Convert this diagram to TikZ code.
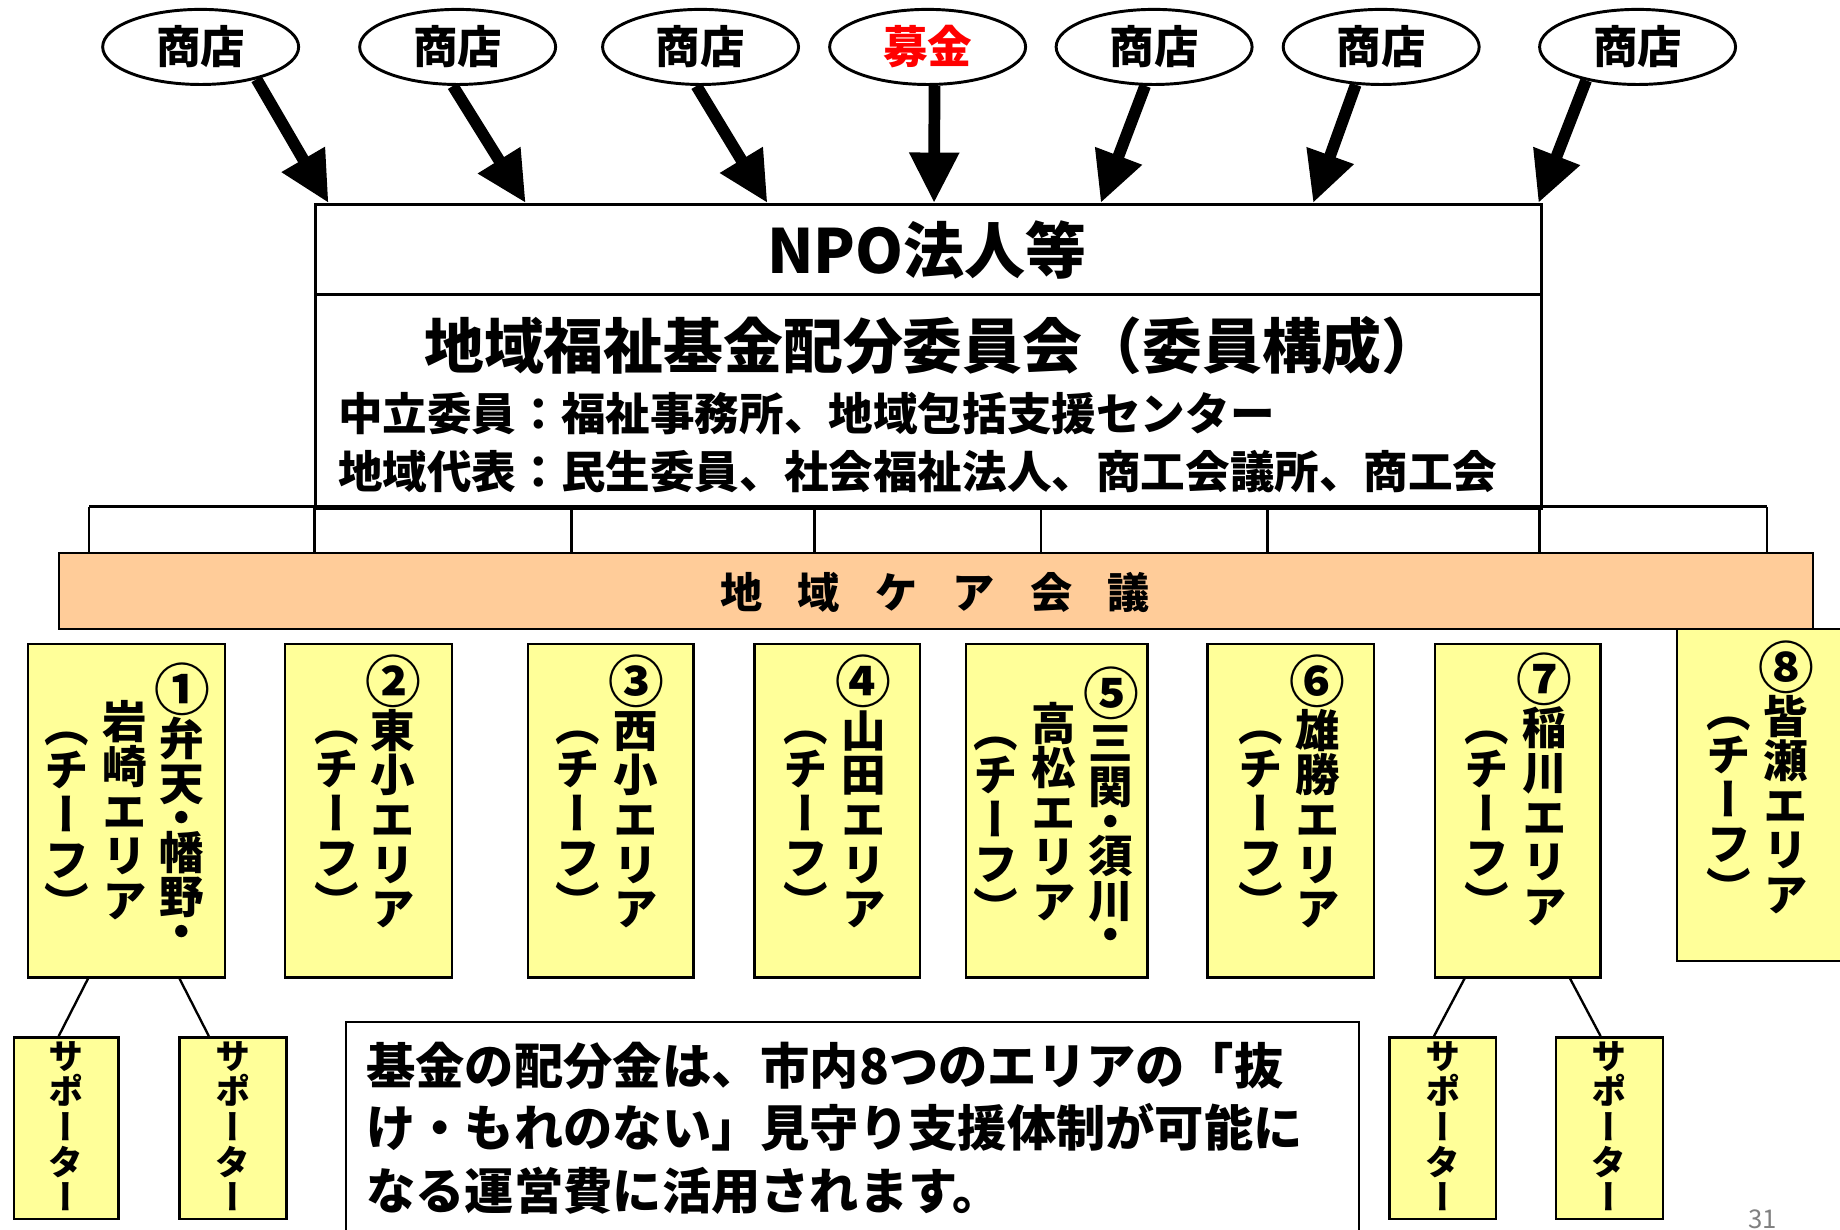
\documentclass[tikz,border=0pt]{standalone}
\usepackage{fontspec}
\usepackage{graphicx}
\setmainfont{Noto Sans CJK JP}
\newfontfamily\jpv{Noto Sans CJK JP}[RawFeature=+vert]
\usetikzlibrary{shapes.geometric,arrows.meta,calc}
\definecolor{peach}{HTML}{FFCC99}
\definecolor{pale}{HTML}{FFFF99}
% vertical (stacked) text
\def\vtaux#1{\ifx\relax#1\else\vtchar{#1}\expandafter\vtaux\fi}
\def\vtchar#1{%
  \ifx・#1\hbox to 1em{\hss\vrule height .55em depth 0pt width 0pt\smash{\lower.105em\hbox{#1}}\hss}%
  \else\ifx（#1\hbox to 1em{\hss\vrule height .38em depth .12em width 0pt\smash{#1}\hss}%
  \else\ifx）#1\hbox to 1em{\hss\vrule height .38em depth .12em width 0pt\smash{\lower.5em\hbox{#1}}\hss}%
  \else\hbox to 1em{\hss\vrule height .88em depth .12em width 0pt\smash{#1}\hss}%
  \fi\fi\fi}
\newcommand\vt[1]{\vbox{\offinterlineskip\vtaux#1\relax}}
% column that starts with a larger circled number
\newcommand\vtn[2]{\vbox{\offinterlineskip
  \hbox to 1em{\hss\vrule height .88em depth .23em width 0pt\smash{\raisebox{-.11em}{\scalebox{1.25}{#1}}}\hss}%
  \vtaux#2\relax}}
\begin{document}
\begin{tikzpicture}[x=1pt,y=1pt,
  shop/.style={draw, line width=2.5pt, ellipse, fill=white, minimum width=167pt, minimum height=64pt, inner sep=0pt, font=\bfseries\fontsize{38}{38}\selectfont},
  bigarrow/.style={line width=10pt, -{Triangle[length=43pt,width=40pt]}},
  ybox/.style={draw, line width=2pt, fill=pale, inner sep=0pt, anchor=north west},
  vcol/.style={inner sep=0pt, anchor=north, font=\jpv\bfseries\fontsize{38}{38}\selectfont},
  scol/.style={inner sep=0pt, anchor=north, font=\jpv\bfseries\fontsize{30}{30}\selectfont},
  thin/.style={line width=2pt},
  htext/.style={inner sep=0pt, font=\bfseries\fontsize{38}{38}\selectfont}]
\useasboundingbox (0,0) rectangle (1568,-1048);
\clip (0,0) rectangle (1568,-1048);

% shops / fund
\node[shop] (e1) at (171,-40) {商店};
\node[shop] (e2) at (390,-40) {商店};
\node[shop] (e3) at (597,-40) {商店};
\node[shop, text=red] (e4) at (790.5,-40) {募金};
\node[shop] (e5) at (983.5,-40) {商店};
\node[shop] (e6) at (1177,-40) {商店};
\node[shop] (e7) at (1395.5,-40) {商店};

% NPO box
\node[draw, line width=2.5pt, minimum width=1044pt, minimum height=259pt, inner sep=0pt, anchor=north west] (npo) at (268,-173) {};
\draw[line width=2.5pt] ($(npo.north west)+(0,-78)$) -- ($(npo.north east)+(0,-78)$);
\node[font=\bfseries\fontsize{52}{52}\selectfont, inner sep=0pt] (npot) at (790,-213) {NPO法人等};
\node[font=\bfseries\fontsize{51}{51}\selectfont, inner sep=0pt] (cmt) at (795,-295) {地域福祉基金配分委員会（委員構成）};
\node[htext, anchor=west] (neu) at (288,-352) {中立委員：福祉事務所、地域包括支援センター};
\node[htext, anchor=west] (rep) at (288,-402) {地域代表：民生委員、社会福祉法人、商工会議所、商工会};

% arrows
\coordinate (t1) at (280,-173);
\coordinate (t2) at (448,-173);
\coordinate (t3) at (654,-173);
\coordinate (t4) at (796,-173);
\coordinate (t5) at (938,-173);
\coordinate (t6) at (1119,-173);
\coordinate (t7) at (1311,-173);
\draw[bigarrow] (e1.-30) -- (t1);
\draw[bigarrow] (e2.-97) -- (t2);
\draw[bigarrow] (e3.-96) -- (t3);
\draw[bigarrow] (e4.-80) -- (t4);
\draw[bigarrow] (e5.-103) -- (t5);
\draw[bigarrow] (e6.-124) -- (t6);
\draw[bigarrow] (e7.-147) -- (t7);

% care meeting bar
\node[draw, line width=2pt, fill=peach, minimum width=1495pt, minimum height=65pt, inner sep=0pt, anchor=north west] (care) at (49,-470) {};
\node[font=\bfseries\fontsize{36}{36}\selectfont, inner sep=0pt] (caret) at (797,-505) {地\hspace{30pt}域\hspace{30pt}ケ\hspace{30pt}ア\hspace{30pt}会\hspace{30pt}議};

\coordinate (h1) at (76,-432);
\coordinate (h2) at (268,-432);
\coordinate (h3) at (487,-432);
\coordinate (h4) at (694,-432);
\coordinate (h5) at (887,-432);
\coordinate (h6) at (1080,-432);
\coordinate (h7) at (1312,-432);
\coordinate (h8) at (1506,-432);
\draw[line width=2.5pt] (h1) -- (h8);
\foreach \i in {1,...,8} \draw[thin] (h\i) -- (h\i |- care.north);

% area boxes
\node[ybox, minimum width=168pt, minimum height=284pt] (a1) at (23,-548) {};
\node[ybox, minimum width=142pt, minimum height=284pt] (a2) at (242,-548) {};
\node[ybox, minimum width=141pt, minimum height=284pt] (a3) at (449,-548) {};
\node[ybox, minimum width=141pt, minimum height=284pt] (a4) at (642,-548) {};
\node[ybox, minimum width=155pt, minimum height=284pt] (a5) at (822,-548) {};
\node[ybox, minimum width=142pt, minimum height=284pt] (a6) at (1028,-548) {};
\node[ybox, minimum width=141pt, minimum height=284pt] (a7) at (1222,-548) {};
\node[ybox, minimum width=150pt, minimum height=283pt] (a8) at (1428,-535) {};

\node[vcol] (a1c1) at (155,-568) {\vtn{①}{弁天・幡野・}};
\node[vcol] (a1c2) at (106,-596) {\vt{岩崎エリア}};
\node[vcol] (a1c3) at (57,-618) {\vt{（チーフ）}};
\node[vcol] (a2c1) at (335,-561) {\vtn{②}{東小エリア}};
\node[vcol] (a2c2) at (287,-617) {\vt{（チーフ）}};
\node[vcol] (a3c1) at (542,-561) {\vtn{③}{西小エリア}};
\node[vcol] (a3c2) at (492,-617) {\vt{（チーフ）}};
\node[vcol] (a4c1) at (736,-561) {\vtn{④}{山田エリア}};
\node[vcol] (a4c2) at (687,-617) {\vt{（チーフ）}};
\node[vcol] (a5c1) at (947,-571) {\vtn{⑤}{三関・須川・}};
\node[vcol] (a5c2) at (898,-597) {\vt{高松エリア}};
\node[vcol] (a5c3) at (849,-622) {\vt{（チーフ）}};
\node[vcol] (a6c1) at (1123,-561) {\vtn{⑥}{雄勝エリア}};
\node[vcol] (a6c2) at (1074,-617) {\vt{（チーフ）}};
\node[vcol] (a7c1) at (1316,-559) {\vtn{⑦}{稲川エリア}};
\node[vcol] (a7c2) at (1267,-617) {\vt{（チーフ）}};
\node[vcol] (a8c1) at (1522,-549) {\vtn{⑧}{皆瀬エリア}};
\node[vcol] (a8c2) at (1473,-605) {\vt{（チーフ）}};

% supporters
\node[ybox, minimum width=89pt, minimum height=155pt] (s1) at (11,-883) {};
\node[ybox, minimum width=91pt, minimum height=155pt] (s2) at (152,-883) {};
\node[ybox, minimum width=91pt, minimum height=155pt] (s3) at (1183,-883) {};
\node[ybox, minimum width=91pt, minimum height=155pt] (s4) at (1325,-883) {};
\node[scol] (s1t) at (s1.north) [yshift=-2pt] {\vt{サポーター}};
\node[scol] (s2t) at (s2.north) [yshift=-2pt] {\vt{サポーター}};
\node[scol] (s3t) at (s3.north) [yshift=-2pt] {\vt{サポーター}};
\node[scol] (s4t) at (s4.north) [yshift=-2pt] {\vt{サポーター}};

\draw[thin] ($(a1.south west)+(52,0)$) -- ($(s1.north west)+(39,0)$);
\draw[thin] ($(a1.south west)+(130,0)$) -- ($(s2.north west)+(26,0)$);
\draw[thin] ($(a7.south west)+(26,0)$) -- ($(s3.north west)+(39,0)$);
\draw[thin] ($(a7.south west)+(116,0)$) -- ($(s4.north west)+(39,0)$);

% note box
\node[draw, line width=2pt, minimum width=863pt, minimum height=200pt, inner sep=0pt, anchor=north west] (note) at (294,-870) {};
\node[anchor=north west, inner sep=0pt, align=left, font=\bfseries\fontsize{42}{53}\selectfont] (notet) at (312,-888) {基金の配分金は、市内8つのエリアの「抜\\け・もれのない」見守り支援体制が可能に\\なる運営費に活用されます。};

\node[anchor=base, inner sep=0pt, text=gray, font=\fontsize{22}{22}\selectfont] (pg) at (1502,-1047) {31};
\end{tikzpicture}
\end{document}
